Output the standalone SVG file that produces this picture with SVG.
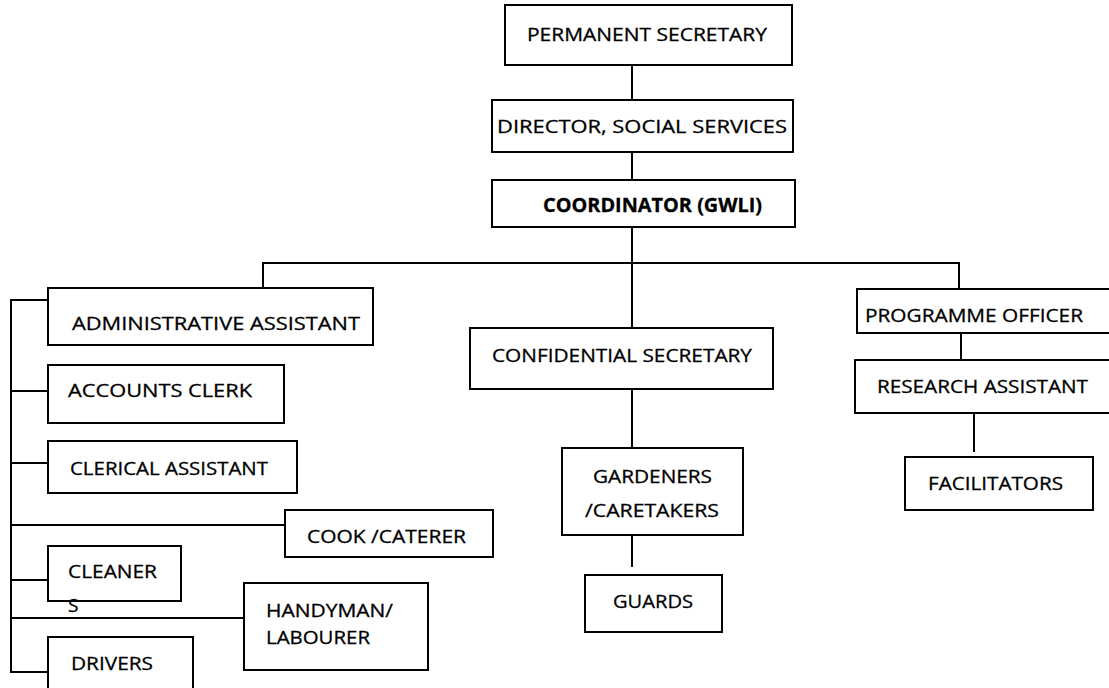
<svg xmlns="http://www.w3.org/2000/svg" width="1109" height="688" viewBox="0 0 1109 688">
  <style>
    .box { fill: #ffffff; stroke: #000000; stroke-width: 2; }
    .link { fill: none; stroke: #000000; stroke-width: 2; }
    .label { font-family: "Open Sans", "Liberation Sans", sans-serif; font-size: 19px; fill: #000000; stroke: #000000; stroke-width: 0.3; }
    .bold { font-weight: bold; }
  </style>
  <rect width="1109" height="688" fill="#ffffff"/>

  <!-- connectors -->
  <g id="connectors">
    <line class="link" x1="632" y1="65" x2="632" y2="100"/>
    <line class="link" x1="632" y1="152" x2="632" y2="180"/>
    <line class="link" x1="632" y1="227" x2="632" y2="263"/>
    <line class="link" x1="262" y1="263" x2="960" y2="263"/>
    <line class="link" x1="263" y1="263" x2="263" y2="288"/>
    <line class="link" x1="959" y1="263" x2="959" y2="289"/>
    <line class="link" x1="632" y1="263" x2="632" y2="328"/>
    <line class="link" x1="632" y1="389" x2="632" y2="448"/>
    <line class="link" x1="632" y1="535" x2="632" y2="567"/>
    <line class="link" x1="961" y1="333" x2="961" y2="360"/>
    <line class="link" x1="974" y1="413" x2="974" y2="452"/>
    <!-- left-hand bus -->
    <line class="link" x1="11" y1="299" x2="11" y2="673"/>
    <line class="link" x1="11" y1="300" x2="48" y2="300"/>
    <line class="link" x1="11" y1="391" x2="48" y2="391"/>
    <line class="link" x1="11" y1="463" x2="48" y2="463"/>
    <line class="link" x1="11" y1="525" x2="285" y2="525"/>
    <line class="link" x1="11" y1="580" x2="48" y2="580"/>
    <line class="link" x1="11" y1="618" x2="244" y2="618"/>
    <line class="link" x1="11" y1="672" x2="48" y2="672"/>
  </g>

  <g id="permanent-secretary">
    <rect class="box" x="505" y="5" width="287" height="60"/>
    <text class="label" x="527" y="41" textLength="240" lengthAdjust="spacingAndGlyphs">PERMANENT SECRETARY</text>
  </g>
  <g id="director">
    <rect class="box" x="492" y="100" width="301" height="52"/>
    <text class="label" x="497" y="133" textLength="290" lengthAdjust="spacingAndGlyphs">DIRECTOR, SOCIAL SERVICES</text>
  </g>
  <g id="coordinator">
    <rect class="box" x="492" y="180" width="303" height="47"/>
    <text class="label bold" x="543" y="212" textLength="219" lengthAdjust="spacingAndGlyphs">COORDINATOR (GWLI)</text>
  </g>

  <g id="admin-assistant">
    <rect class="box" x="48" y="288" width="325" height="57"/>
    <text class="label" x="72" y="330" textLength="288" lengthAdjust="spacingAndGlyphs">ADMINISTRATIVE ASSISTANT</text>
  </g>
  <g id="accounts-clerk">
    <rect class="box" x="48" y="365" width="236" height="58"/>
    <text class="label" x="68" y="397" textLength="184" lengthAdjust="spacingAndGlyphs">ACCOUNTS CLERK</text>
  </g>
  <g id="clerical-assistant">
    <rect class="box" x="48" y="441" width="249" height="52"/>
    <text class="label" x="70" y="475" textLength="198" lengthAdjust="spacingAndGlyphs">CLERICAL ASSISTANT</text>
  </g>
  <g id="cook">
    <rect class="box" x="285" y="510" width="208" height="47"/>
    <text class="label" x="307" y="543" textLength="159" lengthAdjust="spacingAndGlyphs">COOK /CATERER</text>
  </g>
  <g id="cleaners">
    <rect class="box" x="48" y="546" width="133" height="55"/>
    <text class="label" x="68" y="578" textLength="89" lengthAdjust="spacingAndGlyphs">CLEANER</text>
    <text class="label" x="68" y="612">S</text>
  </g>
  <g id="handyman">
    <rect class="box" x="244" y="583" width="184" height="87"/>
    <text class="label" x="266" y="617" textLength="127" lengthAdjust="spacingAndGlyphs">HANDYMAN/</text>
    <text class="label" x="266" y="644" textLength="104" lengthAdjust="spacingAndGlyphs">LABOURER</text>
  </g>
  <g id="drivers">
    <rect class="box" x="48" y="637" width="145" height="62"/>
    <text class="label" x="71" y="670" textLength="82" lengthAdjust="spacingAndGlyphs">DRIVERS</text>
  </g>

  <g id="confidential-secretary">
    <rect class="box" x="470" y="328" width="303" height="61"/>
    <text class="label" x="492" y="362" textLength="260" lengthAdjust="spacingAndGlyphs">CONFIDENTIAL SECRETARY</text>
  </g>
  <g id="gardeners">
    <rect class="box" x="562" y="448" width="181" height="87"/>
    <text class="label" x="593" y="483" textLength="119" lengthAdjust="spacingAndGlyphs">GARDENERS</text>
    <text class="label" x="585" y="517" textLength="134" lengthAdjust="spacingAndGlyphs">/CARETAKERS</text>
  </g>
  <g id="guards">
    <rect class="box" x="585" y="575" width="137" height="57"/>
    <text class="label" x="613" y="608" textLength="80" lengthAdjust="spacingAndGlyphs">GUARDS</text>
  </g>

  <g id="programme-officer">
    <rect class="box" x="857" y="289" width="262" height="44"/>
    <text class="label" x="865" y="322" textLength="218" lengthAdjust="spacingAndGlyphs">PROGRAMME OFFICER</text>
  </g>
  <g id="research-assistant">
    <rect class="box" x="855" y="360" width="264" height="53"/>
    <text class="label" x="877" y="393" textLength="211" lengthAdjust="spacingAndGlyphs">RESEARCH ASSISTANT</text>
  </g>
  <g id="facilitators">
    <rect class="box" x="905" y="457" width="188" height="53"/>
    <text class="label" x="928" y="490" textLength="135" lengthAdjust="spacingAndGlyphs">FACILITATORS</text>
  </g>
</svg>
